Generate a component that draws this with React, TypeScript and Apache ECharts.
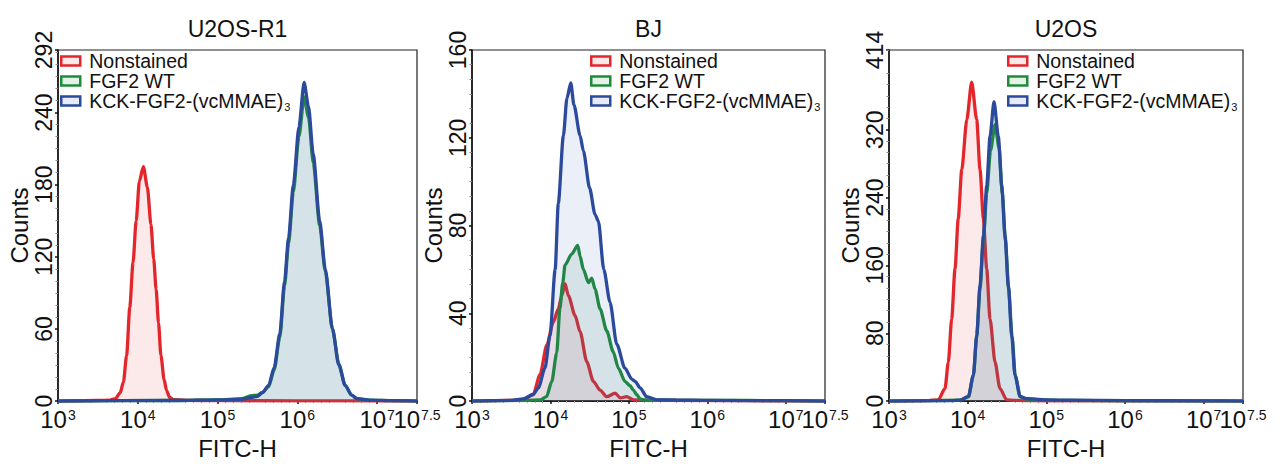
import React, { useEffect, useRef } from "react";
import * as echarts from "echarts";

// ---------- data (x = log10 FITC-H, y = counts) ----------
const panelTitles = ["U2OS-R1", "BJ", "U2OS"];
const seriesNames = ["Nonstained", "FGF2 WT", "KCK-FGF2-(vcMMAE)3"];
const xTickValues = [3, 4, 5, 6, 7, 7.5];
const xDecadeLabels = [3, 4, 5, 6, 7];
const xEndLabel = [7.5];
const yTicks1 = [0, 60, 120, 180, 240, 292];
const yTicks2 = [0, 40, 80, 120, 160];
const yTicks3 = [0, 80, 160, 240, 320, 414];

// Panel 1: U2OS-R1
const p1RedX = [3.0, 3.5, 3.65, 3.72, 3.78, 3.82, 3.86, 3.9, 3.94, 3.98, 4.02, 4.07, 4.12, 4.165, 4.2, 4.23, 4.26, 4.29, 4.33, 4.36, 4.4, 4.45, 4.6, 5.0, 6.0, 7.5];
const p1RedY = [0, 0.5, 0.8, 2, 7, 16, 38, 78, 115, 150, 183, 195, 178, 147, 118, 93, 65, 38, 18, 9, 3, 1.2, 0.6, 0.4, 0.2, 0];
const p1GreenX = [3.0, 4.5, 5.0, 5.3, 5.42, 5.5, 5.56, 5.64, 5.71, 5.78, 5.84, 5.89, 5.95, 6.02, 6.085, 6.14, 6.2, 6.28, 6.35, 6.44, 6.52, 6.6, 6.68, 6.75, 6.9, 7.2, 7.5];
const p1GreenY = [0, 0.5, 1, 2, 4.5, 5, 7, 12, 26, 53, 96, 131, 174, 220, 253, 236, 198, 146, 108, 60, 31, 13, 5, 2, 0.8, 0.4, 0];
const p1BlueX = [3.0, 4.5, 5.0, 5.3, 5.42, 5.5, 5.56, 5.64, 5.71, 5.78, 5.84, 5.89, 5.95, 6.02, 6.085, 6.14, 6.2, 6.28, 6.35, 6.44, 6.52, 6.6, 6.68, 6.75, 6.9, 7.2, 7.5];
const p1BlueY = [0, 0.5, 1, 1.5, 3, 4, 7, 13, 28, 56, 100, 136, 180, 228, 265, 245, 205, 150, 110, 60, 30, 13, 5, 2, 0.8, 0.4, 0];

// Panel 2: BJ
const p2RedX = [3.0, 3.5, 3.655, 3.78, 3.867, 3.953, 4.037, 4.1, 4.144, 4.186, 4.229, 4.314, 4.378, 4.463, 4.547, 4.633, 4.718, 4.824, 4.89, 4.97, 5.06, 5.3, 7.5];
const p2RedY = [0, 0.3, 0.5, 3, 12, 25.5, 36, 42, 48, 53.5, 48, 39, 31.6, 18, 9, 5, 2, 3.6, 1.5, 2, 0.6, 0.3, 0];
const p2GreenX = [3.0, 3.7, 3.87, 3.95, 4.017, 4.08, 4.12, 4.157, 4.186, 4.27, 4.348, 4.378, 4.42, 4.484, 4.527, 4.569, 4.633, 4.718, 4.8, 4.866, 4.95, 5.015, 5.057, 5.1, 5.143, 5.2, 5.5, 6.5, 7.5];
const p2GreenY = [0, 0.3, 0.5, 2, 9, 22, 42, 54, 62, 67, 71, 66, 60, 54, 56, 51, 42, 32, 22.5, 15, 9, 7, 5, 3, 1, 0.5, 0.4, 0.3, 0];
const p2BlueX = [3.0, 3.5, 3.65, 3.78, 3.846, 3.93, 3.995, 4.06, 4.1, 4.165, 4.21, 4.259, 4.3, 4.378, 4.42, 4.5, 4.569, 4.611, 4.68, 4.76, 4.845, 4.95, 5.037, 5.08, 5.143, 5.228, 5.356, 5.6, 6.0, 7.0, 7.5];
const p2BlueY = [0, 0.3, 1, 3, 6, 15, 30, 60, 90, 121, 138, 145, 135, 121, 114, 97, 85, 82, 60, 45, 26, 15, 10, 9, 6, 2, 0.6, 0.5, 0.3, 0.2, 0];

// Panel 3: U2OS
const p3RedX = [3.0, 3.5, 3.627, 3.712, 3.754, 3.797, 3.839, 3.88, 3.925, 3.989, 4.051, 4.115, 4.157, 4.2, 4.242, 4.284, 4.348, 4.41, 4.496, 4.6, 5.0, 7.5];
const p3RedY = [0, 0.5, 1.5, 15, 46, 97, 156, 215, 273, 332, 376, 332, 273, 215, 156, 97, 46, 15, 1.5, 0.8, 0.3, 0];
const p3GreenX = [3.0, 3.9, 4.009, 4.073, 4.115, 4.157, 4.2, 4.242, 4.29, 4.348, 4.4, 4.44, 4.48, 4.52, 4.565, 4.605, 4.67, 4.75, 4.9, 5.3, 6.0, 7.5];
const p3GreenY = [0, 1, 5, 30, 76, 133, 190, 245, 295, 326, 298, 245, 190, 133, 76, 30, 5, 2.5, 1.5, 0.8, 0.4, 0];
const p3BlueX = [3.0, 3.8, 3.9, 4.009, 4.073, 4.115, 4.157, 4.2, 4.242, 4.284, 4.335, 4.39, 4.433, 4.475, 4.517, 4.56, 4.6, 4.666, 4.75, 4.9, 5.0, 5.3, 6.0, 7.0, 7.5];
const p3BlueY = [0, 0.5, 1, 5.5, 31, 78, 136, 195, 254, 312, 353, 312, 254, 195, 136, 78, 31, 5.5, 3, 2, 1.5, 1, 0.5, 0.3, 0];

// ---------- styling ----------
const FONT = "'Liberation Sans', Arial, sans-serif";
const lineColors = ["#e2262c", "#1f8a3a", "#2c4a9c"];
const fillColors = ["rgba(228,70,70,0.16)", "rgba(40,140,110,0.16)", "rgba(70,100,185,0.15)"];
const legendFill = ["#fde8e8", "#e4f3e8", "#e6ebf7"];

const grids = [
  { left: 58, top: 50, width: 359, height: 356 },
  { left: 472, top: 50, width: 353, height: 353 },
  { left: 889, top: 50, width: 354, height: 353 },
];
const legendLeft = [60, 590, 1007];
const yNameGap = [16, 24, 22];

const panelData = [
  [[p1RedX, p1RedY], [p1GreenX, p1GreenY], [p1BlueX, p1BlueY]],
  [[p2RedX, p2RedY], [p2GreenX, p2GreenY], [p2BlueX, p2BlueY]],
  [[p3RedX, p3RedY], [p3GreenX, p3GreenY], [p3BlueX, p3BlueY]],
];
const yTicks = [yTicks1, yTicks2, yTicks3];

const xLabelRich = {
  b: { fontFamily: FONT, fontSize: 24, color: "#111", verticalAlign: "bottom", lineHeight: 24 },
  s: { fontFamily: FONT, fontSize: 14, color: "#111", verticalAlign: "bottom", lineHeight: 14, padding: [0, 0, 9, 1] },
};
const xLabelFormatter = (v: number) => `{b|10}{s|${v === 7.5 ? "7.5" : String(Math.round(v))}}`;

function buildOption() {
  const xAxis: any[] = [];
  const extraX: any[] = [];
  const yAxis: any[] = [];
  const series: any[] = [];
  const legend: any[] = [];
  const title: any[] = [];

  grids.forEach((g, p) => {
    const ticks = yTicks[p];
    const yMax = ticks[ticks.length - 1];
    const yInterval = ticks[1] - ticks[0];
    title.push({
      text: panelTitles[p],
      left: g.left + g.width / 2,
      top: 17,
      textAlign: "center",
      padding: 0,
      textStyle: { fontFamily: FONT, fontSize: 23, fontWeight: "normal", color: "#111" },
    });
    xAxis.push({
      type: "value",
      gridIndex: p,
      position: "bottom",
      min: 3,
      max: 7.5,
      interval: 0.5,
      name: "FITC-H",
      nameLocation: "middle",
      nameGap: 33,
      nameTextStyle: { fontFamily: FONT, fontSize: 24, color: "#111" },
      axisLine: { show: true, onZero: false, lineStyle: { color: "#111", width: 1.5 } },
      axisTick: { show: true, customValues: xTickValues, length: 3, lineStyle: { color: "#111", width: 1.5 } },
      minorTick: { show: true, splitNumber: 5, length: 2, lineStyle: { color: "#aaa" } },
      splitLine: { show: false },
      axisLabel: {
        customValues: xDecadeLabels,
        showMinLabel: true,
        hideOverlap: false,
        margin: 6,
        formatter: xLabelFormatter,
        rich: xLabelRich,
      },
    });
    // second, label-only axis on the same grid carrying the 10^7.5 end label
    extraX.push({
      type: "value",
      gridIndex: p,
      position: "bottom",
      min: 3,
      max: 7.5,
      interval: 0.5,
      axisLine: { show: false, onZero: false },
      axisTick: { show: false },
      minorTick: { show: false },
      splitLine: { show: false },
      axisLabel: {
        customValues: xEndLabel,
        showMaxLabel: true,
        hideOverlap: false,
        margin: 6,
        formatter: xLabelFormatter,
        rich: xLabelRich,
      },
    });
    yAxis.push({
      type: "value",
      gridIndex: p,
      min: 0,
      max: yMax,
      interval: yInterval,
      name: "Counts",
      nameLocation: "middle",
      nameGap: yNameGap[p],
      nameTextStyle: { fontFamily: FONT, fontSize: 24, color: "#111" },
      axisLine: { show: true, lineStyle: { color: "#111", width: 1.5 } },
      axisTick: { show: true, customValues: ticks, length: 3, lineStyle: { color: "#111", width: 1.5 } },
      minorTick: { show: true, splitNumber: 6, length: 2.5, lineStyle: { color: "#888" } },
      splitLine: { show: false },
      axisLabel: {
        customValues: ticks,
        showMaxLabel: true,
        hideOverlap: false,
        rotate: 90,
        margin: 3,
        fontFamily: FONT,
        fontSize: 23,
        color: "#111",
      },
    });
    panelData[p].forEach(([xs, ys], s) => {
      series.push({
        type: "line",
        name: seriesNames[s],
        xAxisIndex: p,
        yAxisIndex: p,
        data: xs.map((x: number, i: number) => [x, ys[i]]),
        showSymbol: false,
        symbol: "none",
        smooth: 0.25,
        smoothMonotone: "x",
        lineStyle: { color: lineColors[s], width: 3.3 },
        itemStyle: { color: lineColors[s] },
        areaStyle: { color: fillColors[s], origin: "start" },
        z: 2 + s,
      });
    });
    legend.push({
      show: true,
      orient: "vertical",
      left: legendLeft[p],
      top: 51,
      padding: 0,
      itemGap: 0,
      itemWidth: 19,
      itemHeight: 9,
      icon: "rect",
      selectedMode: false,
      data: seriesNames.map((n, s) => ({
        name: n,
        itemStyle: { color: legendFill[s], borderColor: lineColors[s], borderWidth: 2.5 },
      })),
      formatter: (n: string) =>
        n === "KCK-FGF2-(vcMMAE)3" ? "{m|KCK-FGF2-(vcMMAE)}{sub|3}" : `{m|${n}}`,
      textStyle: {
        padding: [0, 0, 0, 4],
        rich: {
          m: { fontFamily: FONT, fontSize: 19.5, color: "#111", lineHeight: 19 },
          sub: { fontFamily: FONT, fontSize: 11, color: "#111", lineHeight: 11, verticalAlign: "top", padding: [10, 0, 0, 1] },
        },
      },
    });
  });

  return {
    animation: false,
    backgroundColor: "#ffffff",
    textStyle: { fontFamily: FONT },
    title,
    legend,
    grid: grids.map((g) => ({ ...g, show: true, borderColor: "#222", borderWidth: 1.2, backgroundColor: "transparent", containLabel: false })),
    xAxis: [...xAxis, ...extraX],
    yAxis,
    series,
  };
}

export default function App() {
  const ref = useRef<HTMLDivElement>(null);
  useEffect(() => {
    if (!ref.current) return;
    const chart = echarts.init(ref.current, undefined, { renderer: "svg" });
    chart.setOption(buildOption());
    return () => chart.dispose();
  }, []);
  return (
    <div
      ref={ref}
      style={{ position: "absolute", left: 0, top: 0, width: 1283, height: 465, background: "#fff" }}
    />
  );
}
